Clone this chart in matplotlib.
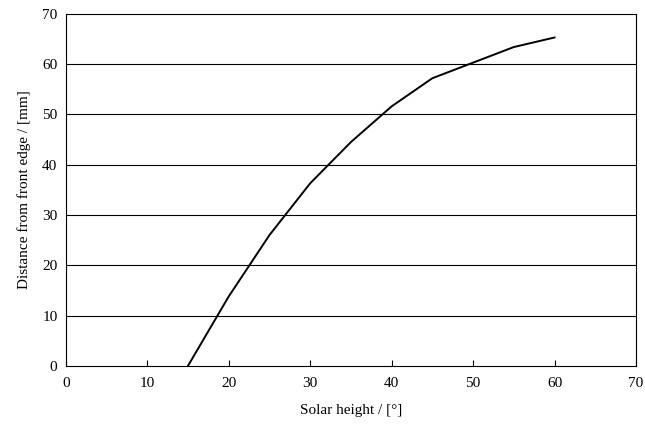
import matplotlib
matplotlib.use("Agg")
import matplotlib.pyplot as plt

plt.rcParams["font.family"] = ["Liberation Serif", "DejaVu Serif"]

solar_height = [15, 20, 25, 30, 35, 40, 45, 50, 55, 60]
distance = [0, 13.8, 26.0, 36.3, 44.5, 51.6, 57.2, 60.3, 63.4, 65.3]

x_ticks = [0, 10, 20, 30, 40, 50, 60, 70]
y_ticks = [0, 10, 20, 30, 40, 50, 60, 70]

fig = plt.figure(figsize=(6.45, 4.33), dpi=100)
ax = fig.add_axes([0.102, 0.155, 0.884, 0.813])

ax.plot(solar_height, distance, color="black", linewidth=1.4,
        solid_joinstyle="round")

ax.set_xlim(0, 70)
ax.set_ylim(0, 70)
ax.set_xticks(x_ticks)
ax.set_yticks(y_ticks)

# horizontal grid only
for y in y_ticks[1:-1]:
    ax.axhline(y, color="black", linewidth=0.8, zorder=0)

for s in ax.spines.values():
    s.set_linewidth(0.8)

ax.tick_params(axis="x", direction="in", length=4, width=0.8, labelsize=11, pad=8)
ax.tick_params(axis="y", length=0, labelsize=11, pad=6)

ax.set_xlabel("Solar height / [°]", fontsize=11, labelpad=10)
ax.set_ylabel("Distance from front edge / [mm]", fontsize=11, labelpad=8)

fig.savefig("out.png", dpi=100)
